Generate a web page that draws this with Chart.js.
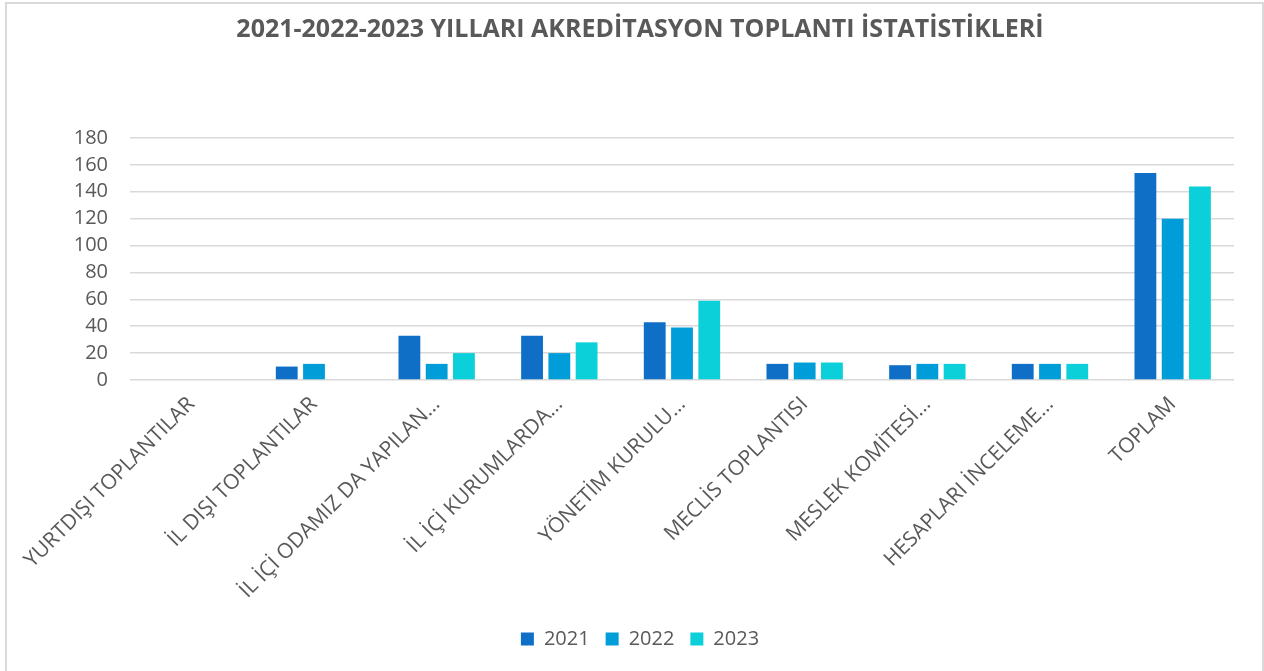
<!DOCTYPE html>
<html>
<head>
<meta charset="utf-8">
<script src="https://cdn.jsdelivr.net/npm/chart.js@4/dist/chart.umd.min.js"></script>
<style>
  html, body { margin: 0; padding: 0; background: #ffffff; overflow: hidden; }
  #frame {
    position: absolute; left: 5px; top: 2px;
    width: 1259px; height: 700px;
    box-sizing: border-box;
    border: 2px solid #d9d9d9;
    background: #ffffff;
  }
  #wrap { position: absolute; left: 0; top: 0; width: 1255px; height: 664px; }
</style>
</head>
<body>
<div id="frame"><div id="wrap"><canvas id="c"></canvas></div></div>
<script>
const chartTitle = "2021-2022-2023 YILLARI AKREDİTASYON TOPLANTI İSTATİSTİKLERİ";
const categories = [
  "YURTDIŞI TOPLANTILAR",
  "İL DIŞI TOPLANTILAR",
  "İL İÇİ ODAMIZ DA YAPILAN…",
  "İL İÇİ KURUMLARDA…",
  "YÖNETİM KURULU…",
  "MECLİS TOPLANTISI",
  "MESLEK KOMİTESİ…",
  "HESAPLARI İNCELEME…",
  "TOPLAM"
];
const seriesNames = ["2021", "2022", "2023"];
const values2021 = [0, 10, 33, 33, 43, 12, 11, 12, 154];
const values2022 = [0, 12, 12, 20, 39, 13, 12, 12, 120];
const values2023 = [0, 0, 20, 28, 59, 13, 12, 12, 144];
const seriesColors = ["#0F6FC6", "#009DD9", "#0BD0D9"];
const yTicks = { min: 0, max: 180, step: 20 };

const textColor = "#595959";
const fontFamily = "'Open Sans', 'DejaVu Sans', sans-serif";

const allValues = [values2021, values2022, values2023];
const datasets = seriesNames.map((name, i) => ({
  label: name,
  data: allValues[i],
  backgroundColor: seriesColors[i],
  borderWidth: 0,
  barPercentage: 0.8,
  categoryPercentage: 0.667
}));

new Chart(document.getElementById("c"), {
  type: "bar",
  data: { labels: categories, datasets },
  options: {
    responsive: true,
    maintainAspectRatio: false,
    animation: false,
    layout: { padding: { left: 39, right: 28, top: 0, bottom: 9 } },
    plugins: {
      title: {
        display: true,
        text: chartTitle,
        color: textColor,
        font: { family: fontFamily, size: 25, weight: "bold" },
        padding: { top: 11, bottom: 93 }
      },
      legend: {
        position: "bottom",
        labels: {
          color: textColor,
          font: { family: fontFamily, size: 20 },
          boxWidth: 13,
          boxHeight: 13,
          padding: 16
        }
      },
      tooltip: { enabled: false }
    },
    scales: {
      x: {
        grid: { display: false },
        border: { display: false },
        ticks: {
          color: textColor,
          font: { family: fontFamily, size: 21 },
          minRotation: 45,
          maxRotation: 45,
          autoSkip: false,
          padding: 4
        },
        afterFit: (scale) => { scale.height = 233; }
      },
      y: {
        min: yTicks.min,
        max: yTicks.max,
        border: { display: false },
        grid: { color: "#d9d9d9", lineWidth: 1.5, drawTicks: false },
        ticks: {
          stepSize: yTicks.step,
          autoSkip: false,
          color: textColor,
          font: { family: fontFamily, size: 20 },
          padding: 22
        },
        afterFit: (scale) => { scale.width = 84; }
      }
    }
  }
});
</script>
</body>
</html>
